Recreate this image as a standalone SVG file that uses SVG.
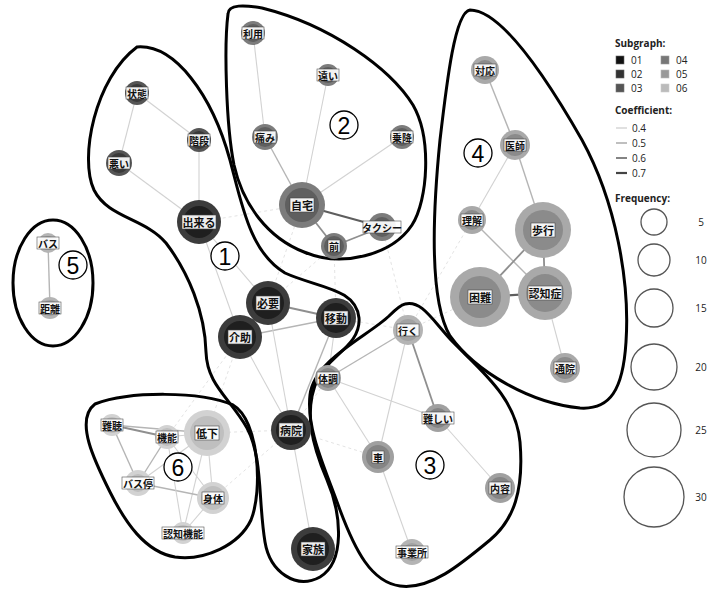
<svg xmlns="http://www.w3.org/2000/svg" width="710" height="592" viewBox="0 0 710 592">
<style>
.bg{fill:#ffffff}
.hull{fill:none;stroke:#000;stroke-width:3}
.e4{stroke:#d2d2d2;stroke-width:1.1;fill:none}
.e5{stroke:#b5b5b5;stroke-width:1.4;fill:none}
.e6{stroke:#8f8f8f;stroke-width:1.8;fill:none}
.e7{stroke:#5e5e5e;stroke-width:2.2;fill:none}
.ex{stroke:#e0e0e0;stroke-width:0.9;stroke-dasharray:3 3;fill:none}
.lb{fill:#fff;stroke:#444;stroke-width:0.6;opacity:0.92}
.t{font-family:"Noto Sans CJK JP","Noto Sans",sans-serif;font-weight:700;fill:#111;text-anchor:middle;dominant-baseline:central}
.s{font-size:10px}
.b{font-size:11px}
.g1o{fill:#3c3c3c}.g1i{fill:#1f1f1f}
.g2o{fill:#555}.g2i{fill:#393939}
.g3o{fill:#7c7c7c}.g3i{fill:#5f5f5f}
.g4o{fill:#a9a9a9}.g4i{fill:#8b8b8b}
.g5o{fill:#a0a0a0}.g5i{fill:#858585}
.g5lo{fill:#b4b4b4}.g5li{fill:#a2a2a2}
.g6o{fill:#d2d2d2}.g6i{fill:#bfbfbf}
.num{font-family:"Liberation Sans",Arial,sans-serif;font-size:23px;fill:#000;text-anchor:middle;dominant-baseline:central}
.numc{fill:#fff;stroke:#000;stroke-width:1.3}
.lg{font-family:"Open Sans","Liberation Sans",sans-serif;font-size:10px;fill:#222}
.lgh{font-family:"Open Sans","Liberation Sans",sans-serif;font-size:10px;font-weight:700;fill:#222}
.fc{fill:none;stroke:#555;stroke-width:1.3}
</style>
<rect class="bg" x="0" y="0" width="710" height="592"/>

<g id="connectors">
  <!-- faint cross-cluster -->
  <line class="ex" x1="382" y1="227" x2="408" y2="330"/>
  <line class="ex" x1="334" y1="246" x2="336" y2="318"/>
  <line class="ex" x1="472" y1="220" x2="408" y2="330"/>
  <line class="ex" x1="336" y1="318" x2="408" y2="330"/>
  <line class="ex" x1="291" y1="430" x2="378" y2="457"/>
  <line class="ex" x1="291" y1="430" x2="213" y2="498"/>
  <line class="ex" x1="240" y1="337" x2="207" y2="433"/>
  <line class="ex" x1="291" y1="430" x2="207" y2="433"/>
  <line class="ex" x1="268" y1="303" x2="302" y2="205"/>
  <line class="ex" x1="199" y1="222" x2="302" y2="205"/>
  <line class="ex" x1="480" y1="297" x2="408" y2="330"/>
  <line class="ex" x1="291" y1="430" x2="328" y2="378"/>
  <line class="ex" x1="268" y1="303" x2="334" y2="246"/>
  <line class="ex" x1="240" y1="337" x2="167" y2="437"/>
  <!-- cluster 1 -->
  <line class="e4" x1="137" y1="93" x2="199" y2="140"/>
  <line class="e4" x1="137" y1="93" x2="119" y2="163"/>
  <line class="e4" x1="119" y1="163" x2="199" y2="222"/>
  <line class="e4" x1="199" y1="140" x2="199" y2="222"/>
  <line class="e4" x1="199" y1="222" x2="240" y2="337"/>
  <line class="e4" x1="199" y1="222" x2="268" y2="303"/>
  <line class="e7" x1="268" y1="303" x2="240" y2="337"/>
  <line class="e6" x1="268" y1="303" x2="336" y2="318"/>
  <line class="e5" x1="240" y1="337" x2="336" y2="318"/>
  <line class="e4" x1="240" y1="337" x2="291" y2="430"/>
  <line class="e4" x1="268" y1="303" x2="291" y2="430"/>
  <line class="e5" x1="336" y1="318" x2="291" y2="430"/>
  <line class="e4" x1="336" y1="318" x2="328" y2="378"/>
  <line class="e4" x1="291" y1="430" x2="313" y2="549"/>
  <!-- cluster 2 -->
  <line class="e4" x1="253" y1="33" x2="265" y2="137"/>
  <line class="e5" x1="265" y1="137" x2="302" y2="205"/>
  <line class="e4" x1="328" y1="75" x2="302" y2="205"/>
  <line class="e4" x1="402" y1="137" x2="302" y2="205"/>
  <line class="e7" x1="302" y1="205" x2="382" y2="227"/>
  <line class="e6" x1="302" y1="205" x2="334" y2="246"/>
  <line class="e6" x1="334" y1="246" x2="382" y2="227"/>
  <!-- cluster 4 -->
  <line class="e5" x1="485" y1="70" x2="515" y2="145"/>
  <line class="e4" x1="515" y1="145" x2="472" y2="220"/>
  <line class="e5" x1="515" y1="145" x2="543" y2="230"/>
  <line class="e5" x1="472" y1="220" x2="545" y2="293"/>
  <line class="e6" x1="543" y1="230" x2="480" y2="297"/>
  <line class="e6" x1="543" y1="230" x2="545" y2="293"/>
  <line class="e7" x1="480" y1="297" x2="545" y2="293"/>
  <line class="e4" x1="545" y1="293" x2="565" y2="368"/>
  <!-- cluster 3 -->
  <line class="e5" x1="408" y1="330" x2="328" y2="378"/>
  <line class="e4" x1="408" y1="330" x2="378" y2="457"/>
  <line class="e6" x1="408" y1="330" x2="438" y2="418"/>
  <line class="e4" x1="328" y1="378" x2="438" y2="418"/>
  <line class="e4" x1="328" y1="378" x2="378" y2="457"/>
  <line class="e4" x1="438" y1="418" x2="500" y2="488"/>
  <line class="e4" x1="378" y1="457" x2="412" y2="552"/>
  <!-- cluster 5 -->
  <line class="e5" x1="48" y1="243" x2="50" y2="308"/>
  <!-- cluster 6 -->
  <line class="e6" x1="112" y1="425" x2="167" y2="437"/>
  <line class="e5" x1="112" y1="425" x2="207" y2="433"/>
  <line class="e5" x1="112" y1="425" x2="138" y2="483"/>
  <line class="e5" x1="167" y1="437" x2="138" y2="483"/>
  <line class="e4" x1="167" y1="437" x2="207" y2="433"/>
  <line class="e4" x1="207" y1="433" x2="213" y2="498"/>
  <line class="e4" x1="207" y1="433" x2="183" y2="533"/>
  <line class="e4" x1="207" y1="433" x2="138" y2="483"/>
  <line class="e5" x1="138" y1="483" x2="213" y2="498"/>
  <line class="e4" x1="213" y1="498" x2="183" y2="533"/>
  <line class="e4" x1="167" y1="437" x2="183" y2="533"/>
  <line class="e4" x1="167" y1="437" x2="213" y2="498"/>
</g>

<g id="hulls">
  <path id="hull1" class="hull" d="M 137,47 C 175,44 212,95 230,160 C 242,205 250,252 285,273 C 318,288 356,288 359,318 C 361,345 330,355 318,378 C 303,410 312,445 327,480 C 342,515 345,562 320,577 C 296,590 270,572 265,542 C 258,500 263,458 247,428 C 230,398 207,385 206,352 C 205,312 188,272 166,243 C 145,218 108,218 94,190 C 79,158 95,78 137,47 Z"/>
  <path id="hull2" class="hull" d="M 228,14 C 228,4 245,5 262,8 C 330,25 390,68 413,105 C 432,138 428,200 412,225 C 392,255 342,268 304,252 C 268,238 243,205 234,165 C 226,125 224,45 228,14 Z"/>
  <path id="hull3" class="hull" d="M 405,304 C 421,300 431,318 451,340 C 480,370 516,397 520,442 C 524,490 514,520 490,540 C 460,565 430,590 400,586 C 371,582 355,550 340,510 C 326,470 306,430 310,395 C 314,360 368,336 389,316 C 395,310 400,305 405,304 Z"/>
  <path id="hull4" class="hull" d="M 470,10 C 500,10 542,70 582,140 C 616,202 630,282 626,342 C 623,390 610,410 580,408 C 530,403 476,372 450,336 C 430,302 432,220 440,140 C 447,80 455,12 470,10 Z"/>
  <ellipse id="hull5" class="hull" cx="53" cy="283" rx="40" ry="63"/>
  <path id="hull6" class="hull" d="M 95,404 C 130,391 200,391 233,405 C 259,420 263,490 251,520 C 239,545 205,561 175,557 C 145,552 125,522 110,492 C 95,462 74,420 95,404 Z"/>
</g>

<g id="n-joutai"><circle class="g2o" cx="137" cy="93" r="12"/><circle class="g2i" cx="137" cy="93" r="9"/><rect class="lb" x="126" y="87" width="22" height="12"/><text class="t s" x="137" y="93">状態</text></g>
<g id="n-kaidan"><circle class="g2o" cx="199" cy="140" r="12"/><circle class="g2i" cx="199" cy="140" r="9"/><rect class="lb" x="188" y="134" width="22" height="12"/><text class="t s" x="199" y="140">階段</text></g>
<g id="n-warui"><circle class="g2o" cx="119" cy="163" r="13"/><circle class="g2i" cx="119" cy="163" r="10"/><rect class="lb" x="108" y="157" width="22" height="12"/><text class="t s" x="119" y="163">悪い</text></g>
<g id="n-dekiru"><circle class="g1o" cx="199" cy="222" r="22"/><circle class="g1i" cx="199" cy="222" r="16"/><rect class="lb" x="182" y="215" width="34" height="14"/><text class="t b" x="199" y="222">出来る</text></g>
<g id="n-hitsuyou"><circle class="g1o" cx="268" cy="303" r="22"/><circle class="g1i" cx="268" cy="303" r="16"/><rect class="lb" x="256" y="296" width="24" height="14"/><text class="t b" x="268" y="303">必要</text></g>
<g id="n-kaijo"><circle class="g1o" cx="240" cy="337" r="22"/><circle class="g1i" cx="240" cy="337" r="16"/><rect class="lb" x="228" y="330" width="24" height="14"/><text class="t b" x="240" y="337">介助</text></g>
<g id="n-idou"><circle class="g1o" cx="336" cy="318" r="20"/><circle class="g1i" cx="336" cy="318" r="15"/><rect class="lb" x="324" y="311" width="24" height="14"/><text class="t b" x="336" y="318">移動</text></g>
<g id="n-byouin"><circle class="g1o" cx="291" cy="430" r="20"/><circle class="g1i" cx="291" cy="430" r="15"/><rect class="lb" x="279" y="423" width="24" height="14"/><text class="t b" x="291" y="430">病院</text></g>
<g id="n-kazoku"><circle class="g1o" cx="313" cy="549" r="22"/><circle class="g1i" cx="313" cy="549" r="16"/><rect class="lb" x="301" y="542" width="24" height="14"/><text class="t b" x="313" y="549">家族</text></g>

<g id="n-riyou"><circle class="g3o" cx="253" cy="33" r="12"/><circle class="g3i" cx="253" cy="33" r="9"/><rect class="lb" x="242" y="27" width="22" height="12"/><text class="t s" x="253" y="33">利用</text></g>
<g id="n-tooi"><circle class="g3o" cx="328" cy="75" r="11"/><circle class="g3i" cx="328" cy="75" r="8"/><rect class="lb" x="317" y="69" width="22" height="12"/><text class="t s" x="328" y="75">遠い</text></g>
<g id="n-itami"><circle class="g3o" cx="265" cy="137" r="13"/><circle class="g3i" cx="265" cy="137" r="10"/><rect class="lb" x="254" y="131" width="22" height="12"/><text class="t s" x="265" y="137">痛み</text></g>
<g id="n-joukou"><circle class="g3o" cx="402" cy="137" r="12"/><circle class="g3i" cx="402" cy="137" r="9"/><rect class="lb" x="391" y="131" width="22" height="12"/><text class="t s" x="402" y="137">乗降</text></g>
<g id="n-jitaku"><circle class="g3o" cx="302" cy="205" r="23"/><circle class="g3i" cx="302" cy="205" r="17"/><rect class="lb" x="290" y="198" width="24" height="14"/><text class="t b" x="302" y="205">自宅</text></g>
<g id="n-taxi"><circle class="g3o" cx="382" cy="227" r="14"/><circle class="g3i" cx="382" cy="227" r="10"/><rect class="lb" x="363" y="221" width="38" height="12"/><text class="t s" x="382" y="227">タクシー</text></g>
<g id="n-mae"><circle class="g3o" cx="334" cy="246" r="13"/><circle class="g3i" cx="334" cy="246" r="10"/><rect class="lb" x="328" y="240" width="12" height="12"/><text class="t s" x="334" y="246">前</text></g>

<g id="n-taiou"><circle class="g4o" cx="485" cy="70" r="14"/><circle class="g4i" cx="485" cy="70" r="10"/><rect class="lb" x="474" y="64" width="22" height="12"/><text class="t s" x="485" y="70">対応</text></g>
<g id="n-ishi"><circle class="g4o" cx="515" cy="145" r="15"/><circle class="g4i" cx="515" cy="145" r="11"/><rect class="lb" x="504" y="139" width="22" height="12"/><text class="t s" x="515" y="145">医師</text></g>
<g id="n-rikai"><circle class="g4o" cx="472" cy="220" r="14"/><circle class="g4i" cx="472" cy="220" r="10"/><rect class="lb" x="461" y="214" width="22" height="12"/><text class="t s" x="472" y="220">理解</text></g>
<g id="n-hokou"><circle class="g4o" cx="543" cy="230" r="28"/><circle class="g4i" cx="543" cy="230" r="20"/><rect class="lb" x="531" y="223" width="24" height="14"/><text class="t b" x="543" y="230">歩行</text></g>
<g id="n-konnan"><circle class="g4o" cx="480" cy="297" r="30"/><circle class="g4i" cx="480" cy="297" r="21"/><rect class="lb" x="468" y="290" width="24" height="14"/><text class="t b" x="480" y="297">困難</text></g>
<g id="n-ninchishou"><circle class="g4o" cx="545" cy="293" r="27"/><circle class="g4i" cx="545" cy="293" r="19"/><rect class="lb" x="528" y="286" width="34" height="14"/><text class="t b" x="545" y="293">認知症</text></g>
<g id="n-tsuuin"><circle class="g4o" cx="565" cy="368" r="15"/><circle class="g4i" cx="565" cy="368" r="11"/><rect class="lb" x="554" y="362" width="22" height="12"/><text class="t s" x="565" y="368">通院</text></g>

<g id="n-iku"><circle class="g5lo" cx="408" cy="330" r="15"/><circle class="g5li" cx="408" cy="330" r="11"/><rect class="lb" x="397" y="324" width="22" height="12"/><text class="t s" x="408" y="330">行く</text></g>
<g id="n-taichou"><circle class="g5o" cx="328" cy="378" r="13"/><circle class="g5i" cx="328" cy="378" r="10"/><rect class="lb" x="317" y="372" width="22" height="12"/><text class="t s" x="328" y="378">体調</text></g>
<g id="n-muzukashii"><circle class="g5o" cx="438" cy="418" r="14"/><circle class="g5i" cx="438" cy="418" r="10"/><rect class="lb" x="422" y="412" width="32" height="12"/><text class="t s" x="438" y="418">難しい</text></g>
<g id="n-kuruma"><circle class="g5o" cx="378" cy="457" r="16"/><circle class="g5i" cx="378" cy="457" r="12"/><rect class="lb" x="372" y="451" width="12" height="12"/><text class="t s" x="378" y="457">車</text></g>
<g id="n-naiyou"><circle class="g5o" cx="500" cy="488" r="15"/><circle class="g5i" cx="500" cy="488" r="11"/><rect class="lb" x="489" y="482" width="22" height="12"/><text class="t s" x="500" y="488">内容</text></g>
<g id="n-jigyousho"><circle class="g5lo" cx="412" cy="552" r="13"/><circle class="g5li" cx="412" cy="552" r="9"/><rect class="lb" x="396" y="546" width="32" height="12"/><text class="t s" x="412" y="552">事業所</text></g>

<g id="n-basu"><circle class="g5lo" cx="48" cy="243" r="10"/><circle class="g5li" cx="48" cy="243" r="7"/><rect class="lb" x="37" y="237" width="22" height="12"/><text class="t s" x="48" y="243">バス</text></g>
<g id="n-kyori"><circle class="g5lo" cx="50" cy="308" r="11"/><circle class="g5li" cx="50" cy="308" r="8"/><rect class="lb" x="39" y="302" width="22" height="12"/><text class="t s" x="50" y="308">距離</text></g>

<g id="n-nanchou"><circle class="g6o" cx="112" cy="425" r="11"/><circle class="g6i" cx="112" cy="425" r="8"/><rect class="lb" x="101" y="419" width="22" height="12"/><text class="t s" x="112" y="425">難聴</text></g>
<g id="n-kinou"><circle class="g6o" cx="167" cy="437" r="12"/><circle class="g6i" cx="167" cy="437" r="9"/><rect class="lb" x="156" y="431" width="22" height="12"/><text class="t s" x="167" y="437">機能</text></g>
<g id="n-teika"><circle class="g6o" cx="207" cy="433" r="23"/><circle class="g6i" cx="207" cy="433" r="17"/><rect class="lb" x="195" y="426" width="24" height="14"/><text class="t b" x="207" y="433">低下</text></g>
<g id="n-basutei"><circle class="g6o" cx="138" cy="483" r="13"/><circle class="g6i" cx="138" cy="483" r="9"/><rect class="lb" x="122" y="477" width="32" height="12"/><text class="t s" x="138" y="483">バス停</text></g>
<g id="n-shintai"><circle class="g6o" cx="213" cy="498" r="16"/><circle class="g6i" cx="213" cy="498" r="12"/><rect class="lb" x="202" y="492" width="22" height="12"/><text class="t s" x="213" y="498">身体</text></g>
<g id="n-ninchikinou"><circle class="g6o" cx="183" cy="533" r="11"/><circle class="g6i" cx="183" cy="533" r="8"/><rect class="lb" x="162" y="527" width="42" height="12"/><text class="t s" x="183" y="533">認知機能</text></g>

<g id="labels-numbers">
  <circle class="numc" cx="225" cy="256" r="14"/><text class="num" x="225" y="257">1</text>
  <circle class="numc" cx="344" cy="125" r="14"/><text class="num" x="344" y="126">2</text>
  <circle class="numc" cx="430" cy="465" r="14"/><text class="num" x="430" y="466">3</text>
  <circle class="numc" cx="478" cy="153" r="14"/><text class="num" x="478" y="154">4</text>
  <circle class="numc" cx="73" cy="265" r="14"/><text class="num" x="73" y="266">5</text>
  <circle class="numc" cx="178" cy="467" r="14"/><text class="num" x="178" y="468">6</text>
</g>

<g id="legend">
  <text class="lgh" x="615" y="47">Subgraph:</text>
  <rect x="616" y="56" width="8" height="8" fill="#111" stroke="#666" stroke-width="0.6"/><text class="lg" x="631" y="63.5">01</text>
  <rect x="616" y="70" width="8" height="8" fill="#333" stroke="#666" stroke-width="0.6"/><text class="lg" x="631" y="77.5">02</text>
  <rect x="616" y="84" width="8" height="8" fill="#555" stroke="#777" stroke-width="0.6"/><text class="lg" x="631" y="91.5">03</text>
  <rect x="661" y="56" width="8" height="8" fill="#777" stroke="#999" stroke-width="0.6"/><text class="lg" x="676" y="63.5">04</text>
  <rect x="661" y="70" width="8" height="8" fill="#999" stroke="#bbb" stroke-width="0.6"/><text class="lg" x="676" y="77.5">05</text>
  <rect x="661" y="84" width="8" height="8" fill="#bbb" stroke="#ccc" stroke-width="0.6"/><text class="lg" x="676" y="91.5">06</text>
  <text class="lgh" x="615" y="114">Coefficient:</text>
  <line x1="616" y1="128" x2="627" y2="128" stroke="#d0d0d0" stroke-width="1.3"/><text class="lg" x="632" y="131.5">0.4</text>
  <line x1="616" y1="143" x2="627" y2="143" stroke="#aaa" stroke-width="1.5"/><text class="lg" x="632" y="146.5">0.5</text>
  <line x1="616" y1="158" x2="627" y2="158" stroke="#777" stroke-width="1.8"/><text class="lg" x="632" y="161.5">0.6</text>
  <line x1="616" y1="173" x2="627" y2="173" stroke="#444" stroke-width="2.2"/><text class="lg" x="632" y="176.5">0.7</text>
  <text class="lgh" x="615" y="202">Frequency:</text>
  <circle class="fc" cx="654" cy="222" r="13"/><text class="lg" x="701" y="225.5" text-anchor="middle">5</text>
  <circle class="fc" cx="654" cy="260" r="16"/><text class="lg" x="701" y="263.5" text-anchor="middle">10</text>
  <circle class="fc" cx="654" cy="308" r="19"/><text class="lg" x="701" y="311.5" text-anchor="middle">15</text>
  <circle class="fc" cx="654" cy="367" r="23"/><text class="lg" x="701" y="370.5" text-anchor="middle">20</text>
  <circle class="fc" cx="654" cy="430" r="27"/><text class="lg" x="701" y="433.5" text-anchor="middle">25</text>
  <circle class="fc" cx="654" cy="497" r="30"/><text class="lg" x="701" y="500.5" text-anchor="middle">30</text>
</g>
</svg>
